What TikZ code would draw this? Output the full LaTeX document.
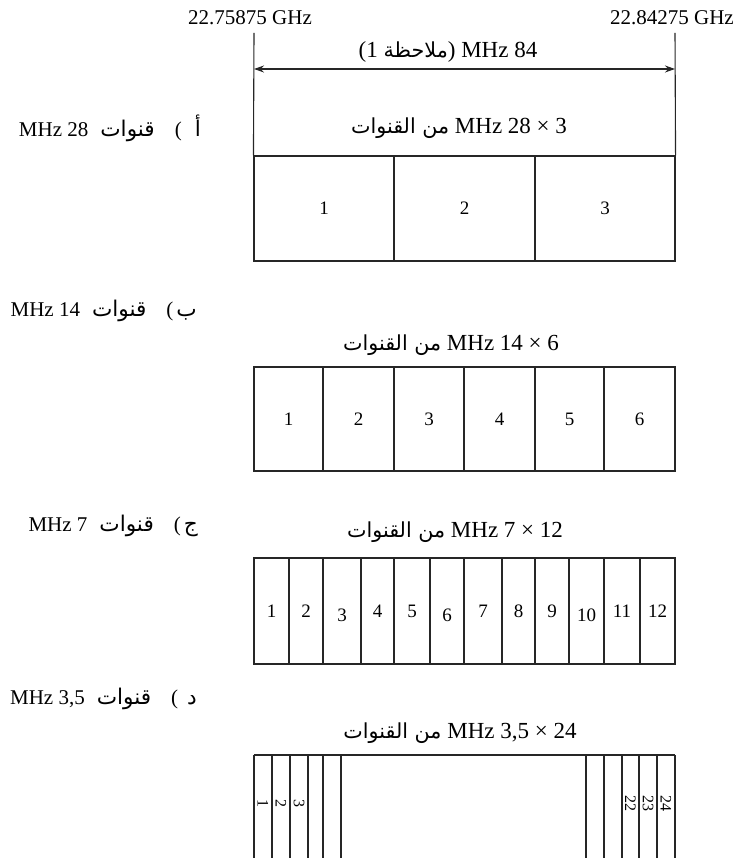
\documentclass[tikz,border=0pt]{standalone}
\usepackage{fontspec}
\setmainfont{Liberation Serif}
\newfontfamily\arf[Script=Arabic,Scale=1.03]{DejaVu Sans}
\newfontfamily\arfs[Script=Arabic,Scale=0.9]{DejaVu Sans}
\TeXXeTstate=1
\usetikzlibrary{arrows.meta}
\begin{document}
\begin{tikzpicture}[x=1pt,y=-1pt,
  lbl/.style={font=\fontsize{21}{24}\selectfont, inner sep=0pt},
  big/.style={font=\fontsize{23}{26}\selectfont, inner sep=0pt},
  cell/.style={draw=black!85, line width=1.1pt, inner sep=0pt, text height=13pt, text depth=0pt, font=\fontsize{19}{22}\selectfont},
  vnum/.style={font=\fontsize{16}{18}\selectfont, inner sep=0pt, rotate=-90},
  ln/.style={draw=black!85, line width=1.1pt}]
\useasboundingbox (0,0) rectangle (736,858);

% frequency labels
\node[lbl] (fL) at (250,18) {22.75875 GHz};
\node[lbl, anchor=east] (fR) at (734,18) {22.84275 GHz};

% band edges and arrow
\coordinate (tL) at (254,33);
\coordinate (tR) at (675,33);
\coordinate (aL) at (254,69);
\coordinate (aR) at (675,69);
\node[big] (bw) at (448,52) {\beginR 84 MHz ){\arfs ملاحظة} \beginL(1\endL\endR};
\draw[ln, {Stealth[length=10pt,width=7pt]}-{Stealth[length=10pt,width=7pt]}] (aL) -- (aR);

% a) 28 MHz
\node[lbl, anchor=east] (La) at (201,128) {\beginR{\arf أ}\hspace{13pt}(\hspace{20pt}{\arf قنوات}\hspace{12pt}28 MHz\endR};
\node[big] (Ta) at (459,128) {\beginR 3 × 28 MHz {\arfs من القنوات}\endR};
\foreach \l/\r/\t [count=\i] in {254/394/1, 394/535/2, 535/675/3}
  \node[cell, minimum width=\r-\l, minimum height=105] (a\i) at ({(\l+\r)/2},208.5) {\t};
\draw[ln] (tL) -- (a1.north west);
\draw[ln] (tR) -- (a3.north east);

% b) 14 MHz
\node[lbl, anchor=east] (Lb) at (197,311) {\beginR{\arf ب}\hspace{3pt}(\hspace{20pt}{\arf قنوات}\hspace{12pt}14 MHz\endR};
\node[big] (Tb) at (451,345) {\beginR 6 × 14 MHz {\arfs من القنوات}\endR};
\foreach \l/\r/\t [count=\i] in {254/323/1, 323/394/2, 394/464/3, 464/535/4, 535/604/5, 604/675/6}
  \node[cell, minimum width=\r-\l, minimum height=104] (b\i) at ({(\l+\r)/2},419) {\t};

% c) 7 MHz
\node[lbl, anchor=east] (Lc) at (198,526) {\beginR{\arf ج}\hspace{3pt}(\hspace{20pt}{\arf قنوات}\hspace{12pt}7 MHz\endR};
\node[big] (Tc) at (455,532) {\beginR 12 × 7 MHz {\arfs من القنوات}\endR};
\foreach \l/\r/\t [count=\i] in {254/289/1, 289/323/2, 323/361/\raisebox{-4pt}{3}, 361/394/4, 394/430/5, 430/464/\raisebox{-4pt}{6}, 464/502/7, 502/535/8, 535/569/9, 569/604/\raisebox{-4pt}{10}, 604/640/11, 640/675/12}
  \node[cell, minimum width=\r-\l, minimum height=106] (c\i) at ({(\l+\r)/2},611) {\t};

% d) 3,5 MHz
\node[lbl, anchor=east] (Ld) at (197,699) {\beginR{\arf د}\hspace{9pt}(\hspace{20pt}{\arf قنوات}\hspace{12pt}3,5 MHz\endR};
\node[big] (Td) at (460,733) {\beginR 24 × 3,5 MHz {\arfs من القنوات}\endR};
\coordinate (dTL) at (254,755);
\coordinate (dTR) at (675,755);
\draw[ln] (dTL) -- (dTR);
\foreach \x in {254,272,290,308,323,341,586,604,622,639,657,675}
  \draw[ln] (\x,755) -- (\x,860);
\node[vnum] (d1) at (263,803) {1};
\node[vnum] (d2) at (281,803) {2};
\node[vnum] (d3) at (299,803) {3};
\node[vnum] (d22) at (630.5,803) {22};
\node[vnum] (d23) at (648,803) {23};
\node[vnum] (d24) at (666,803) {24};
\end{tikzpicture}
\end{document}
